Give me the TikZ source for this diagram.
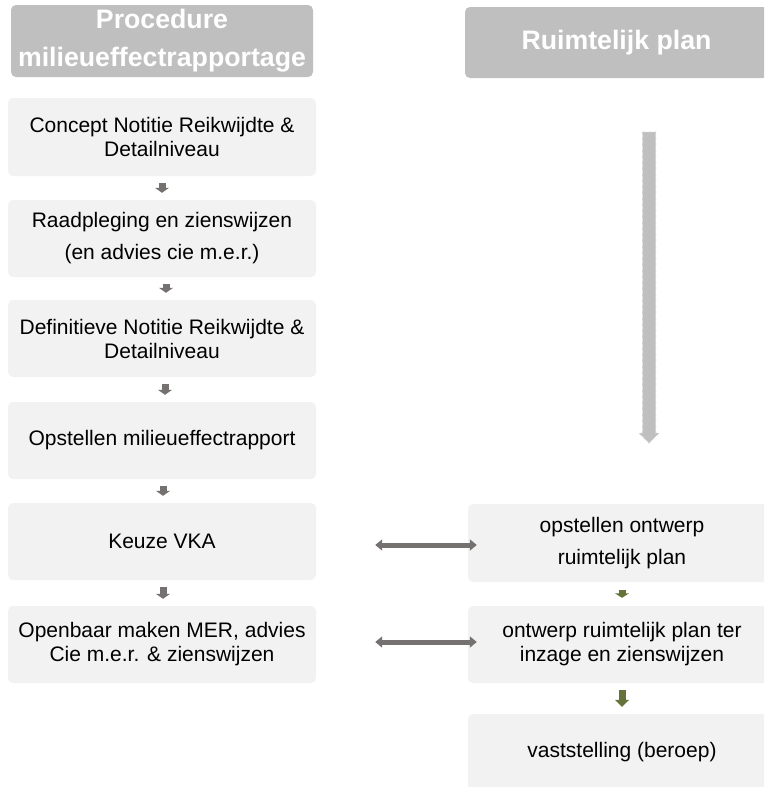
\documentclass[tikz,border=0pt]{standalone}
\usepackage{fontspec}
\setmainfont{Liberation Sans}
\usetikzlibrary{arrows.meta,calc}
\definecolor{hdrgray}{HTML}{BFBFBF}
\definecolor{boxgray}{HTML}{F2F2F2}
\definecolor{arrgray}{HTML}{767171}
\definecolor{olive}{HTML}{647337}
\definecolor{dashfill}{HTML}{BFBFBF}
\definecolor{dashline}{HTML}{D0D0D0}
\tikzset{
  hdr/.style={fill=hdrgray, rounded corners=5pt, text=white, align=center,
    font=\fontsize{26.7}{38}\selectfont\bfseries, inner sep=0pt},
  stepbox/.style={fill=boxgray, rounded corners=5pt, align=center,
    minimum width=308pt, inner sep=0pt},
  tight/.style={font=\fontsize{21}{24}\selectfont},
  loose/.style={font=\fontsize{21}{32}\selectfont},
  grayarrow/.style={draw=arrgray, line width=7pt, shorten <=7pt, shorten >=7pt,
    -{Triangle[width=14pt,length=5pt]}},
  greenarrow/.style={draw=olive, line width=7pt, shorten <=7pt, shorten >=7pt},
  dblarrow/.style={draw=arrgray, line width=5pt,
    {Triangle[width=11pt,length=7pt]}-{Triangle[width=11pt,length=7pt]}},
  dasharrow/.style={fill=dashfill, draw=dashline, dashed, line width=1pt}
}
\begin{document}
\begin{tikzpicture}[x=1pt,y=-1pt]
\useasboundingbox (0,0) rectangle (764,787);
\clip (0,0) rectangle (764,787);
% headers
\node[hdr, minimum width=302pt, minimum height=72pt] (h1) at (162,41) {Procedure\\milieueffectrapportage};
\node[hdr, minimum width=303pt, minimum height=71pt] (h2) at (616.5,42.5) {Ruimtelijk plan};
% left column
\node[stepbox, tight, minimum height=78pt] (b1) at (162,137) {Concept Notitie Reikwijdte \&\\Detailniveau};
\node[stepbox, loose, minimum height=77pt] (b2) at (162,238.5) {Raadpleging en zienswijzen\\(en advies cie m.e.r.)};
\node[stepbox, tight, minimum height=77pt] (b3) at (162,338.5) {Definitieve Notitie Reikwijdte \&\\Detailniveau};
\node[stepbox, tight, minimum height=77pt] (b4) at (162,440.5) {Opstellen milieueffectrapport};
\node[stepbox, tight, minimum height=77pt] (b5) at (162,541.5) {Keuze VKA};
\node[stepbox, tight, minimum height=77pt] (b6) at (162,644.5) {Openbaar maken MER, advies\\Cie m.e.r. \& zienswijzen};
% right column
\node[stepbox, loose, minimum height=78pt] (r1) at (622,543) {opstellen ontwerp\\ruimtelijk plan};
\node[stepbox, tight, minimum height=77pt] (r2) at (622,644.5) {ontwerp ruimtelijk plan ter\\inzage en zienswijzen};
\node[stepbox, tight, minimum height=77pt] (r3) at (622,752.5) {vaststelling (beroep)};
% left arrows
\draw[grayarrow] (b1.south) -- (b2.north);
\draw[grayarrow] ([xshift=4pt]b2.south) -- ([xshift=4pt]b3.north);
\draw[grayarrow] ([xshift=3pt]b3.south) -- ([xshift=3pt]b4.north);
\draw[grayarrow] ([xshift=1pt]b4.south) -- ([xshift=1pt]b5.north);
\draw[grayarrow] ([xshift=1pt]b5.south) -- ([xshift=1pt]b6.north);
% right arrows
\draw[greenarrow, shorten <=8pt, shorten >=8pt, -{Triangle[width=14pt,length=4.5pt]}] (r1.south) -- (r2.north);
\draw[greenarrow, -{Triangle[width=14pt,length=7pt]}] (r2.south) -- (r3.north);
% double arrows
\draw[dblarrow, shorten <=59pt, shorten >=-9pt] ([yshift=-3.5pt]b5.east) -- ([yshift=-3.5pt]b5.east -| r1.west);
\draw[dblarrow, shorten <=59pt, shorten >=-9pt] ([yshift=2.5pt]b6.east) -- ([yshift=2.5pt]b6.east -| r2.west);
% dashed block arrow
\coordinate (dtop) at (649,132);
\coordinate (dhead) at (649,433);
\coordinate (dtip) at (649,443);
\draw[dasharrow] ($(dtop)+(-6.5,0)$) -- ($(dtop)+(6.5,0)$) -- ($(dhead)+(6.5,0)$)
  -- ($(dhead)+(10,0)$) -- (dtip) -- ($(dhead)+(-10,0)$) -- ($(dhead)+(-6.5,0)$) -- cycle;
\end{tikzpicture}
\end{document}
